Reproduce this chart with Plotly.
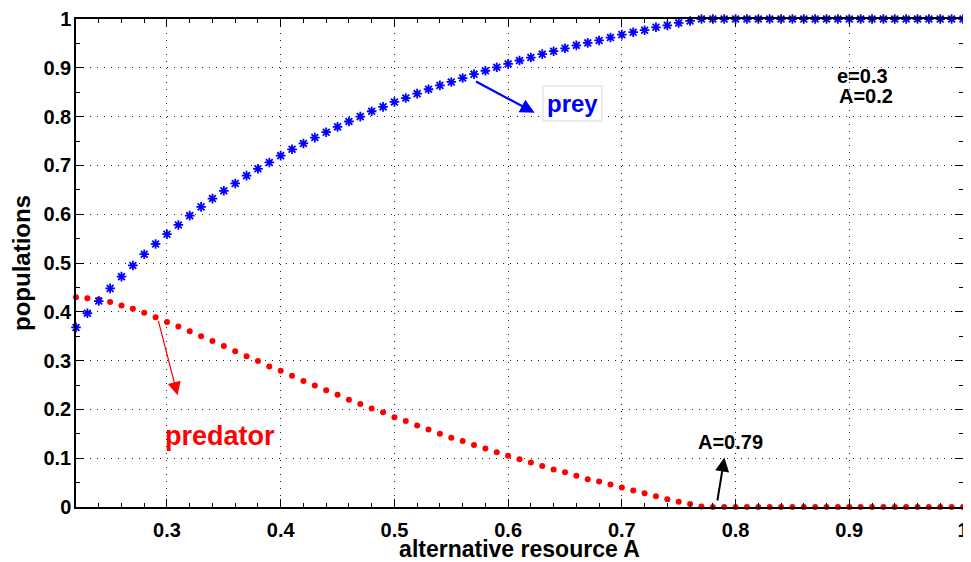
import plotly.graph_objects as go

# ---------------- data ----------------
A_values = [0.22, 0.23, 0.24, 0.25, 0.26, 0.27, 0.28, 0.29, 0.30, 0.31,
            0.32, 0.33, 0.34, 0.35, 0.36, 0.37, 0.38, 0.39, 0.40, 0.41,
            0.42, 0.43, 0.44, 0.45, 0.46, 0.47, 0.48, 0.49, 0.50, 0.51,
            0.52, 0.53, 0.54, 0.55, 0.56, 0.57, 0.58, 0.59, 0.60, 0.61,
            0.62, 0.63, 0.64, 0.65, 0.66, 0.67, 0.68, 0.69, 0.70, 0.71,
            0.72, 0.73, 0.74, 0.75, 0.76, 0.77, 0.78, 0.79, 0.80, 0.81,
            0.82, 0.83, 0.84, 0.85, 0.86, 0.87, 0.88, 0.89, 0.90, 0.91,
            0.92, 0.93, 0.94, 0.95, 0.96, 0.97, 0.98, 0.99, 1.00]

prey = [0.368, 0.397, 0.422, 0.448, 0.472, 0.495, 0.518, 0.539, 0.559, 0.578,
        0.597, 0.615, 0.632, 0.648, 0.663, 0.679, 0.693, 0.706, 0.720, 0.733,
        0.745, 0.757, 0.768, 0.779, 0.790, 0.800, 0.811, 0.820, 0.830, 0.838,
        0.847, 0.856, 0.864, 0.871, 0.879, 0.887, 0.894, 0.901, 0.908, 0.915,
        0.921, 0.928, 0.934, 0.940, 0.946, 0.951, 0.956, 0.962, 0.968, 0.973,
        0.977, 0.983, 0.987, 0.992, 0.996, 1.0, 1.0, 1.0, 1.0, 1.0,
        1.0, 1.0, 1.0, 1.0, 1.0, 1.0, 1.0, 1.0, 1.0, 1.0,
        1.0, 1.0, 1.0, 1.0, 1.0, 1.0, 1.0, 1.0, 1.0]

predator = [0.430, 0.428, 0.425, 0.420, 0.413, 0.406, 0.398, 0.389, 0.379, 0.370,
            0.360, 0.350, 0.340, 0.330, 0.319, 0.309, 0.299, 0.288, 0.279, 0.269,
            0.258, 0.249, 0.239, 0.230, 0.220, 0.211, 0.202, 0.194, 0.184, 0.176,
            0.167, 0.159, 0.150, 0.142, 0.135, 0.127, 0.120, 0.112, 0.105, 0.098,
            0.091, 0.084, 0.077, 0.071, 0.064, 0.057, 0.052, 0.046, 0.040, 0.034,
            0.028, 0.022, 0.016, 0.011, 0.006, 0.001, 0.0, 0.0, 0.0, 0.0,
            0.0, 0.0, 0.0, 0.0, 0.0, 0.0, 0.0, 0.0, 0.0, 0.0,
            0.0, 0.0, 0.0, 0.0, 0.0, 0.0, 0.0, 0.0, 0.0]

x_title = "alternative resource A"
y_title = "populations"

FONT = "Liberation Sans, Arial, Helvetica, sans-serif"

fig = go.Figure()
fig.add_trace(go.Scatter(
    x=A_values, y=predator, mode="markers", name="predator",
    marker=dict(symbol="circle", size=6, color="#ff0000", line=dict(width=0)),
    cliponaxis=False, showlegend=False))
fig.add_trace(go.Scatter(
    x=A_values, y=prey, mode="markers", name="prey",
    marker=dict(symbol="asterisk-open", size=8, color="#0000ff",
                line=dict(color="#0000ff", width=1.8)),
    cliponaxis=False, showlegend=False))

axis_common = dict(
    ticks="inside", ticklen=8, tickwidth=1.3, tickcolor="black",
    showline=True, linecolor="black", linewidth=1.5, mirror="ticks",
    showgrid=True, gridcolor="#222222", griddash="1px,6px", gridwidth=1,
    zeroline=False, automargin=False,
    tickfont=dict(family=FONT, size=20, color="black", weight="bold"),
)

fig.update_xaxes(
    range=[0.22, 1.0], tick0=0, dtick=0.1, ticklabelstandoff=4,
    minor=dict(dtick=0.02, ticks="inside", ticklen=4, tickcolor="black", showgrid=False),
    title=dict(text=x_title, font=dict(family=FONT, size=23, color="black", weight="bold"), standoff=5),
    **axis_common)
fig.update_yaxes(
    range=[0.0, 1.0], tick0=0, dtick=0.1, ticklabelstandoff=-1,
    minor=dict(dtick=0.05, ticks="inside", ticklen=4, tickcolor="black", showgrid=False),
    title=dict(text=y_title, font=dict(family=FONT, size=24, color="black", weight="bold"), standoff=8),
    **axis_common)

# arrows (tail -> tip, data coordinates)
arrows = [
    dict(tail=(0.5704, 0.8735), tip=(0.6233, 0.8079), color="#0000ff", width=2.2, size=1.3),
    dict(tail=(0.2921, 0.3843), tip=(0.3093, 0.2290), color="#ff0000", width=1.2, size=2.2),
    dict(tail=(0.7838, 0.0103), tip=(0.7902, 0.1013), color="black", width=2.0, size=1.4),
]
for a in arrows:
    fig.add_annotation(x=a["tip"][0], y=a["tip"][1], ax=a["tail"][0], ay=a["tail"][1],
                       xref="x", yref="y", axref="x", ayref="y", text="",
                       showarrow=True, arrowhead=2, arrowsize=a["size"],
                       arrowwidth=a["width"], arrowcolor=a["color"])

fig.add_annotation(x=0.657, y=0.826, xref="x", yref="y", text="prey", showarrow=False,
                   font=dict(family=FONT, size=24, color="#0000ff", weight="bold"),
                   bgcolor="white", bordercolor="#ececec", borderwidth=2, borderpad=3)
fig.add_annotation(x=0.3467, y=0.145, xref="x", yref="y", text="predator", showarrow=False,
                   font=dict(family=FONT, size=27, color="#ff0000", weight="bold"))
fig.add_annotation(x=0.7956, y=0.1333, xref="x", yref="y", text="A=0.79", showarrow=False,
                   font=dict(family=FONT, size=20, color="black", weight="bold"))
fig.add_annotation(x=0.9112, y=0.884, xref="x", yref="y", text="e=0.3", showarrow=False,
                   font=dict(family=FONT, size=20, color="black", weight="bold"))
fig.add_annotation(x=0.9148, y=0.843, xref="x", yref="y", text="A=0.2", showarrow=False,
                   font=dict(family=FONT, size=20, color="black", weight="bold"))

# the page body adds an 8px offset, so the figure is 8px smaller than the window
fig.update_layout(
    width=963, height=554,
    margin=dict(l=68, r=8, t=11, b=55),
    paper_bgcolor="white", plot_bgcolor="white",
    showlegend=False,
)

fig.write_html("out.html")
